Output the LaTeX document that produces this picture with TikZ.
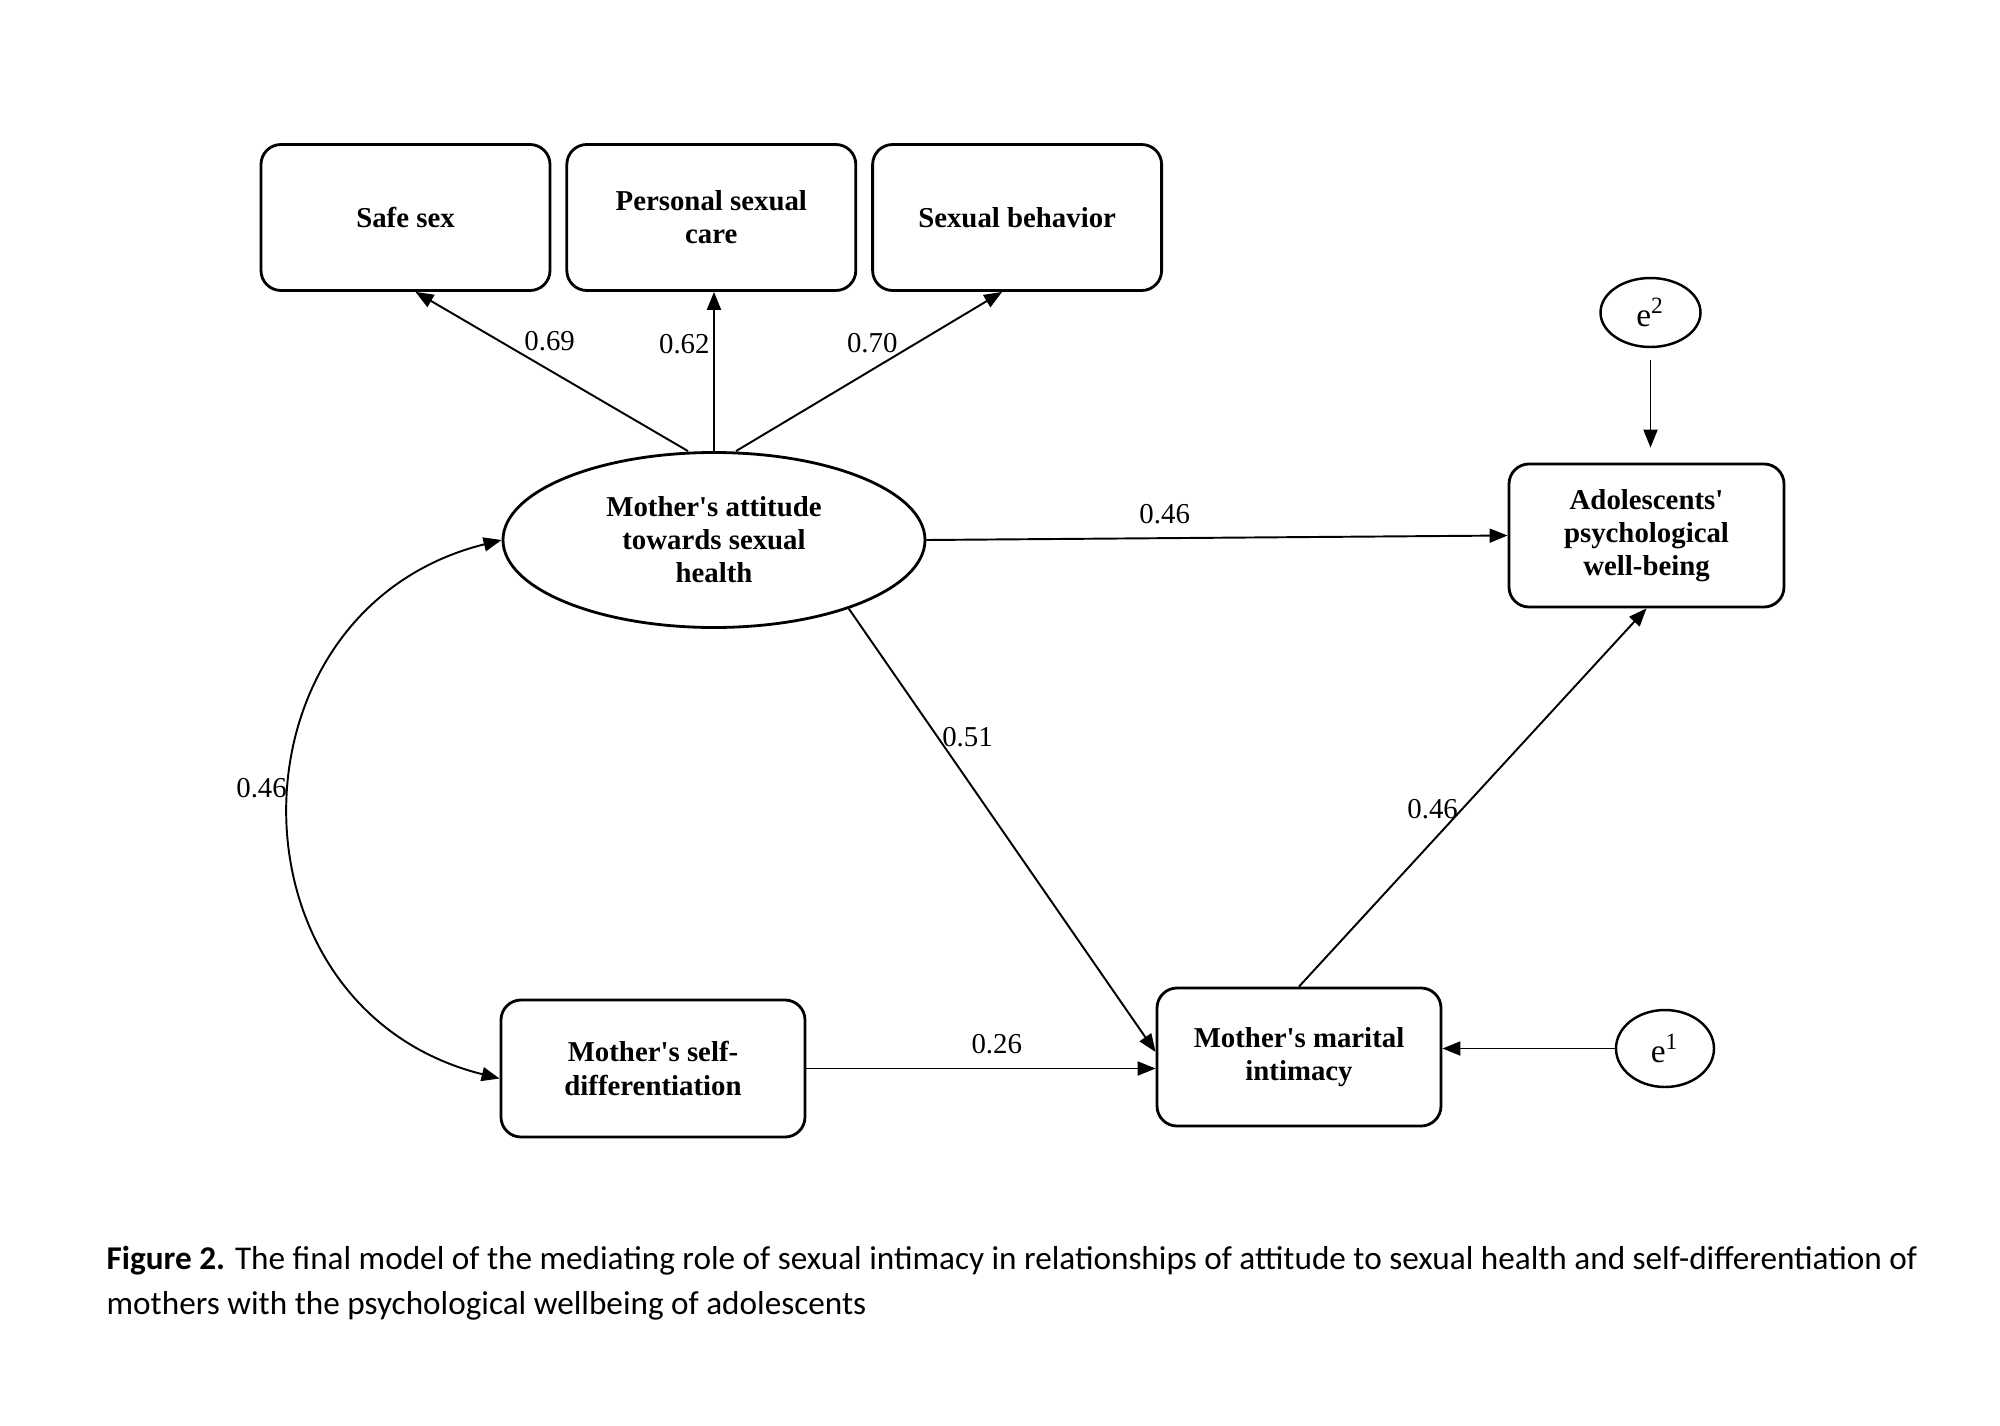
\documentclass[tikz,border=0pt]{standalone}
\usepackage{fontspec}
\setmainfont{Liberation Serif}[Ligatures=TeXOff]
\newfontfamily\capfont{Carlito}
\usetikzlibrary{arrows.meta, positioning, shapes.geometric}

\begin{document}
\begin{tikzpicture}[
    every node/.style={font=\fontsize{8.2}{9.4}\selectfont},
    box/.style={rectangle, rounded corners=2mm, draw, line width=0.8pt, align=center, font=\fontsize{8.2}{9.4}\selectfont\bfseries, minimum width=2.89cm, minimum height=1.46cm},
    lat/.style={ellipse, draw, line width=0.8pt, align=center, inner sep=0pt, font=\fontsize{8.2}{9.4}\selectfont\bfseries, minimum width=4.22cm, minimum height=1.75cm},
    err/.style={ellipse, draw, line width=0.7pt, inner sep=0pt, font=\fontsize{9.5}{11}\selectfont},
    arr/.style={-{Triangle[length=1.8mm, width=1.4mm]}, line width=0.55pt},
    dbl/.style={{Triangle[length=1.8mm, width=1.4mm]}-{Triangle[length=1.8mm, width=1.4mm]}, line width=0.55pt},
    lbl/.style={inner sep=1pt, font=\fontsize{8.2}{9.4}\selectfont}
]
\useasboundingbox (0,0) rectangle (20,-14.26);

\node[box] (ss) at (4.055,-2.175) {Safe sex};
\node[box, right=0.14cm of ss] (pc) {Personal sexual\\care};
\node[box, right=0.14cm of pc] (sb) {Sexual behavior};

\node[lat] (att) at (7.14,-5.40) {Mother's attitude\\towards sexual\\health};

\node[box, minimum width=2.75cm, minimum height=1.43cm] (ad) at (16.465,-5.355) {Adolescents'\\psychological\\well-being};
\node[box, minimum width=3.04cm, minimum height=1.37cm] (sd) at (6.53,-10.685) {Mother's self-\\differentiation};
\node[box, minimum width=2.84cm, minimum height=1.38cm] (mc) at (12.99,-10.57) {Mother's marital\\intimacy};

\node[err, minimum width=1.0cm, minimum height=0.69cm] (e2) at (16.505,-3.125) {e\textsuperscript{2}};
\node[err, minimum width=0.98cm, minimum height=0.77cm] (e1) at (16.65,-10.485) {e\textsuperscript{1}};

\draw[arr] ([xshift=-2.6mm]att.north) -- node[lbl, pos=0.69, right=2mm] {0.69} ([xshift=1mm]ss.south);
\draw[arr] (att.north) -- node[lbl, pos=0.67, left] {0.62} (att.north |- pc.south);
\draw[arr] ([xshift=2.2mm]att.north) -- node[lbl, pos=0.68, left=1.5mm] {0.70} ([xshift=-1.5mm]sb.south);

\draw[arr] (att.east) -- node[lbl, pos=0.41, above=1mm] {0.46} (ad.west);
\draw[arr] (att.-27) -- node[lbl, pos=0.29, right] {0.51} ([yshift=0.5mm]mc.west);
\draw[arr] (sd.east) -- node[lbl, pos=0.545, above=1mm] {0.26} (sd.east -| mc.west);
\draw[arr] (mc.north) -- node[lbl, pos=0.47, left] {0.46} (ad.south);
\draw[arr] (e1) -- (e1 -| mc.east);
\draw[arr, shorten <=1.2mm, shorten >=1.5mm] (e2) -- (e2 |- ad.north);

\draw[dbl] (att.west) to[out=194, in=166, looseness=1.37] node[lbl, pos=0.47, left] {0.46} ([yshift=-1mm]sd.west);

\node[anchor=west, align=left, inner sep=0pt, font=\capfont\fontsize{9.45}{12.8}\selectfont] (cap) at (1.06,-12.83)
{\textbf{Figure 2.} The final model of the mediating role of sexual intimacy in relationships of attitude to sexual health and self-differentiation of\\mothers with the psychological wellbeing of adolescents};

\end{tikzpicture}
\end{document}
